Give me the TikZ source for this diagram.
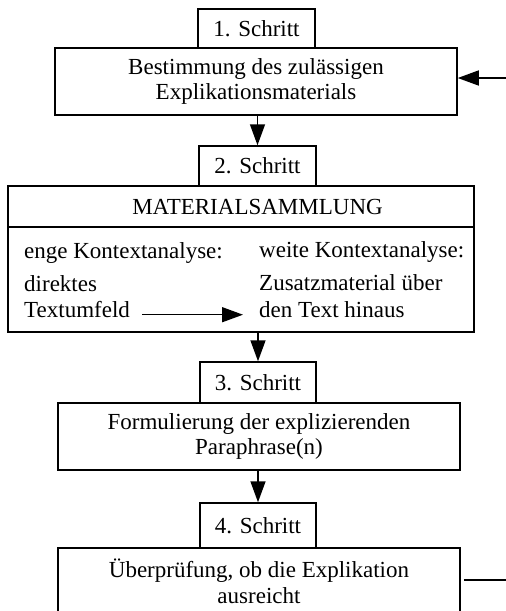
\documentclass[tikz,border=0pt]{standalone}
\usepackage{fontspec}
\setmainfont{Liberation Serif}
\usetikzlibrary{arrows.meta}
\begin{document}
\begin{tikzpicture}[x=1pt,y=-1pt,
  box/.style={draw, line width=1.5pt, inner sep=0pt, align=center, font=\fontsize{23}{25.5}\selectfont},
  lbl/.style={inner sep=0pt, font=\fontsize{23}{25.5}\selectfont},
  arr/.style={line width=1.5pt, -{Triangle[length=21pt,width=15pt]}},
  ln/.style={line width=1.5pt}]
\useasboundingbox (0,0) rectangle (506,611);
\clip (0,0) rectangle (506,611);
% step 1
\node[box, minimum width=117pt, minimum height=39pt] (tab1) at (256.5,28.5) {1. Schritt};
\node[box, minimum width=402pt, minimum height=67pt] (box1) at (256,81.5) {Bestimmung des zulässigen\\Explikationsmaterials};
% step 2
\node[box, minimum width=117pt, minimum height=40pt] (tab2) at (257.5,166) {2. Schritt};
\node[box, minimum width=466pt, minimum height=41pt] (head2) at (241,206.5) {};
\node[lbl] (title2) at (257.5,207) {MATERIALSAMMLUNG};
\node[box, minimum width=466pt, minimum height=105pt] (body2) at (241,279.5) {};
\node[lbl, anchor=base west] (enge) at (24,258) {enge Kontextanalyse:};
\node[lbl, anchor=base west] (weite) at (259,257) {weite Kontextanalyse:};
\node[lbl, anchor=base west] (dir) at (24,291) {direktes};
\node[lbl, anchor=base west] (tu) at (24,317) {Textumfeld};
\node[lbl, anchor=base west] (zus) at (259,290) {Zusatzmaterial über};
\node[lbl, anchor=base west] (dth) at (259,317) {den Text hinaus};
% step 3
\node[box, minimum width=116pt, minimum height=41pt] (tab3) at (258,382.5) {3. Schritt};
\node[box, minimum width=402pt, minimum height=67pt] (box3) at (259,436.5) {Formulierung der explizierenden\\Paraphrase(n)};
% step 4
\node[box, minimum width=116pt, minimum height=45pt] (tab4) at (258,525.5) {4. Schritt};
\node[box, minimum width=402pt, minimum height=67pt] (box4) at (259,581.5) {Überprüfung, ob die Explikation\\ausreicht};
% feedback ends
\coordinate (fb1) at (506,78);
\coordinate (fb4) at (506,580);
% connectors
\draw[arr] (fb1) -- (fb1 -| box1.east);
\draw[arr] (box1.south -| tab2.north) -- (tab2.north);
\draw[arr] ([xshift=12pt]tu.mid east) -- ([xshift=-16pt]dth.mid west);
\draw[arr] (body2.south -| tab3.north) -- (tab3.north);
\draw[arr] (box3.south -| tab4.north) -- (tab4.north);
\draw[ln] ([xshift=3pt]box4.east |- fb4) -- (fb4);
\end{tikzpicture}
\end{document}
